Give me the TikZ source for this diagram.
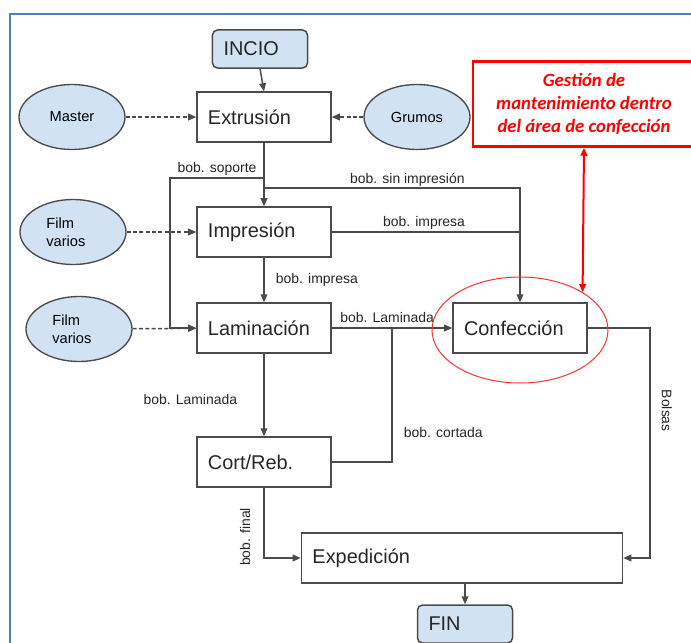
\documentclass[tikz,border=0pt]{standalone}
\usepackage{fontspec}
\setmainfont{Liberation Sans}
\newfontfamily\notefont{Carlito}
\usetikzlibrary{arrows.meta,shapes.geometric}

\definecolor{linegray}{RGB}{75,75,75}
\definecolor{softblue}{RGB}{208,226,243}
\definecolor{frameblue}{RGB}{79,129,189}
\definecolor{alertred}{RGB}{255,0,0}

\tikzset{
  proc/.style={draw=linegray, line width=0.045cm, minimum height=1.5cm,
    text width=3.36cm, inner xsep=0.33cm, align=left, text=black!85,
    font=\fontsize{17}{20}\selectfont},
  term/.style={proc, fill=softblue, rounded corners=0.15cm,
    minimum height=1.14cm, text width=2.19cm},
  supply/.style={ellipse, draw=linegray, fill=softblue, line width=0.04cm,
    minimum width=3.18cm, minimum height=1.95cm, inner sep=1pt,
    align=left, font=\fontsize{12.5}{15}\selectfont},
  lbl/.style={inner sep=1pt, text=black!85, font=\fontsize{11.9}{14}\selectfont},
  line/.style={draw=linegray, line width=0.045cm},
  flow/.style={line, -{Triangle[length=0.24cm,width=0.2cm]}},
  feed/.style={flow, dash pattern=on 0.12cm off 0.07cm},
}

\begin{document}
\begin{tikzpicture}[x=0.03cm, y=-0.03cm]
  \useasboundingbox (0,0) rectangle (691,643);
  \draw[frameblue, line width=0.08cm] (10,14) rectangle (720,680);

  % process steps
  \node[term] (incio) at (260,49) {INCIO};
  \node[proc] (extr)  at (264,117) {Extrusión};
  \node[proc] (impr)  at (264,232) {Impresión};
  \node[proc] (lamin) at (264,328) {Laminación};
  \node[proc] (cort)  at (264,462) {Cort/Reb.};
  \node[proc] (conf)  at (520,328) {Confección};
  \node[proc, text width=8.97cm] (exped) at (462,558) {Expedición};
  \node[term] (fin)   at (465,624) {FIN};

  % raw material inputs
  \node[supply] (master) at (72,117)  {Master};
  \node[supply] (grumos) at (417,117) {Grumos};
  \node[supply, text width=1.6cm] (film1) at (73,232) {Film\\varios};
  \node[supply, text width=1.6cm] (film2) at (79,329) {Film\\varios};

  \draw[feed] (master) -- (extr);
  \draw[feed] (grumos) -- (extr);
  \draw[feed] (film1) -- (impr);
  \draw[feed] (film2) -- (lamin);

  % branch points
  \coordinate (sop)    at (264,178);
  \coordinate (sopend) at (170,178);
  \coordinate (sinimp) at (264,188);
  \coordinate (corte)  at (392,328);
  \coordinate (bolsas) at (650,328);

  \draw[flow] (incio.south) -- (extr.north);
  \draw[flow] (extr) -- (impr);
  \draw[flow] (impr) -- node[lbl, right=0.3cm] {bob. impresa} (lamin);
  \draw[flow] (lamin) -- node[lbl, left=0.75cm, pos=0.56] {bob. Laminada} (cort);
  \draw[flow] (sop) -- node[lbl, above=1pt] {bob. soporte} (sopend) |- (lamin.west);
  \draw[flow] (sinimp) -| node[lbl, above, pos=0.28] {bob. sin impresión} (conf.north);
  \draw[line] (impr.east) -- node[lbl, above=1pt, pos=0.49] {bob. impresa} (impr.east -| conf.north);
  \draw[flow] (lamin) -- node[lbl, above=3pt, pos=0.46] {bob. Laminada} (conf);
  \draw[line] (cort.east) -| node[lbl, right=0.3cm, pos=0.61] {bob. cortada} (corte);
  \draw[flow] (conf.east) -- (bolsas)
    |- node[lbl, rotate=-90, anchor=south, inner ysep=0.33cm, pos=0.18] {Bolsas} (exped.east);
  \draw[flow] (cort.south)
    |- node[lbl, rotate=90, anchor=south, inner ysep=0.39cm, pos=0.35] {bob. final} (exped.west);
  \draw[flow] (exped.south -| fin.north) -- (fin.north);

  % maintenance note
  \node[draw=alertred, line width=0.075cm, minimum width=6.66cm, minimum height=2.55cm,
    align=center, text=alertred, font=\notefont\bfseries\itshape\fontsize{16}{19.6}\selectfont]
    (gestion) at (584,104) {Gestión de\\mantenimiento dentro\\del área de confección};
  \node[ellipse, draw=alertred!80, line width=0.03cm, minimum width=5.28cm,
    minimum height=3.18cm] (zona) at (520,330) {};
  \draw[alertred, line width=0.06cm, {Triangle[length=0.24cm,width=0.2cm]}-{Triangle[length=0.24cm,width=0.2cm]}]
    (gestion.south) -- (zona.north east);
\end{tikzpicture}
\end{document}
